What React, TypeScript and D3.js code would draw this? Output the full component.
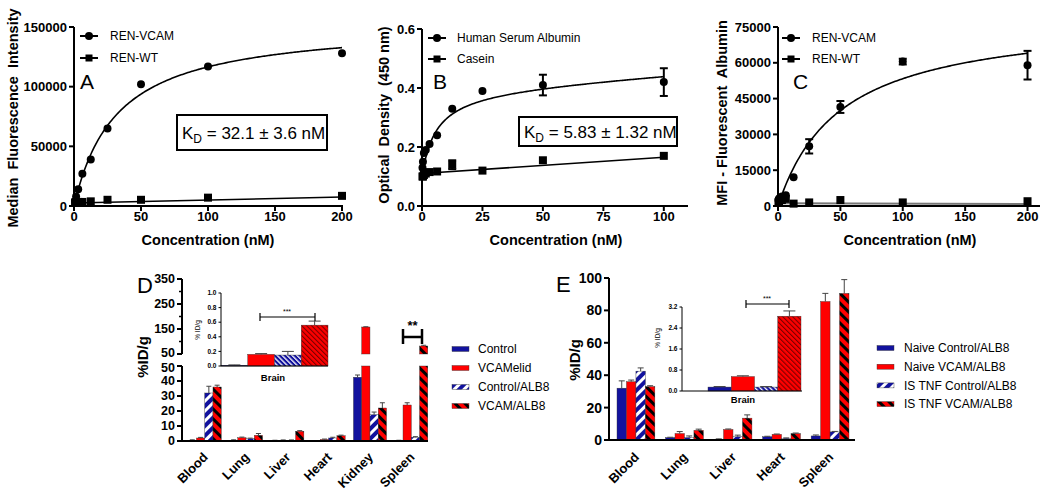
import React from 'react';
import * as d3 from 'd3';

const FONT = '"Liberation Sans", Arial, Helvetica, sans-serif';
const BLUE = '#12129e';
const RED = '#ff0000';

// ---------- Panel A ----------
const concA = [0.78, 1.56, 3.125, 6.25, 12.5, 25, 50, 100, 200];
const renVcamA = [4000, 8000, 14000, 27000, 39000, 65000, 102000, 117000, 128000];
const renWtA = [3000, 3200, 3400, 3400, 3900, 5200, 5200, 7000, 8500];
const fitA = { bmax: 154000, kd: 32.1 };
const wtFitA = { start: 2500, end: 7500 };
const ticksAx = [0, 50, 100, 150, 200];
const ticksAy = [0, 50000, 100000, 150000];

// ---------- Panel B ----------
const concB = [0.2, 0.39, 0.78, 1.56, 3.125, 6.25, 12.5, 25, 50, 100];
const hsaB = [0.13, 0.15, 0.18, 0.19, 0.21, 0.24, 0.33, 0.39, 0.41, 0.42];
const hsaErrB = [0, 0, 0, 0, 0, 0, 0, 0, 0.035, 0.047];
const caseinB = [0.1, 0.1, 0.105, 0.11, 0.115, 0.117, 0.14, 0.12, 0.155, 0.17];
const caseinErrB = [0, 0, 0, 0, 0, 0, 0.015, 0, 0, 0];
const fitB = { base: 0.1, bmax: 0.3, kd: 5.83, slope: 0.00055 };
const caseinFitB = { start: 0.11, slope: 0.00055 };
const ticksBx = [0, 25, 50, 75, 100];
const ticksBy = [0, 0.2, 0.4, 0.6];

// ---------- Panel C ----------
const concC = [0.39, 0.78, 1.56, 3.125, 6.25, 12.5, 25, 50, 100, 200];
const renVcamC = [2500, 3000, 3500, 4000, 4500, 12000, 25000, 41500, 60500, 59000];
const renVcamErrC = [0, 0, 0, 0, 0, 0, 3000, 2500, 1200, 6000];
const renWtC = [1500, 2000, 2500, 2500, 3000, 1000, 1500, 2500, 1500, 2000];
const fitC = { bmax: 80000, kd: 50 };
const wtFitC = { start: 1200, end: 800 };
const ticksCx = [0, 50, 100, 150, 200];
const ticksCy = [0, 15000, 30000, 45000, 60000, 75000];

// ---------- Panel D ----------
const catsD = ['Blood', 'Lung', 'Liver', 'Heart', 'Kidney', 'Spleen'];
const seriesD = ['Control', 'VCAMelid', 'Control/ALB8', 'VCAM/ALB8'];
const dControl = [0.5, 0.5, 0.3, 0.2, 42.5, 0.3];
const dVcamelid = [2, 2.2, 0.5, 1, 158, 24];
const dControlAlb8 = [32, 1.5, 0.5, 2, 17.5, 2.5];
const dVcamAlb8 = [36, 3.8, 6.5, 3.5, 22, 82];
const dControlErr = [0.3, 0.3, 0.2, 0.1, 1.5, 0.2];
const dVcamelidErr = [0.4, 0.4, 0.2, 0.3, 1, 1.5];
const dControlAlb8Err = [4.5, 0.4, 0.2, 0.5, 1.8, 0.4];
const dVcamAlb8Err = [1.2, 1.2, 0.4, 0.4, 3.5, 3];
const ticksDLow = [0, 10, 20, 30, 40, 50];
const ticksDHigh = [50, 150, 250, 350];
const minorDHigh = [100, 200, 300];
const brainD = [0.01, 0.16, 0.15, 0.56];
const brainDErr = [0.005, 0.01, 0.05, 0.055];
const ticksDInset = [0, 0.2, 0.4, 0.6, 0.8, 1.0];

// ---------- Panel E ----------
const catsE = ['Blood', 'Lung', 'Liver', 'Heart', 'Spleen'];
const seriesE = ['Naive Control/ALB8', 'Naive VCAM/ALB8', 'IS TNF Control/ALB8', 'IS TNF VCAM/ALB8'];
const eNaiveCtrl = [32, 1.5, 0.5, 2, 2.5];
const eNaiveVcam = [36, 4, 6.5, 3.5, 85.5];
const eIsCtrl = [42.5, 1.5, 2, 1, 5];
const eIsVcam = [33, 6, 13.5, 4, 90.5];
const eNaiveCtrlErr = [4.5, 0.2, 0.2, 0.3, 0.6];
const eNaiveVcamErr = [1, 1.2, 0.3, 0.2, 5];
const eIsCtrlErr = [2, 1, 1, 0.3, 0.3];
const eIsVcamErr = [0.5, 0.7, 2, 0.3, 8.5];
const ticksE = [0, 20, 40, 60, 80, 100];
const brainE = [0.15, 0.55, 0.15, 2.85];
const brainEErr = [0.02, 0.03, 0.02, 0.2];
const ticksEInset = [0, 0.8, 1.6, 2.4, 3.2];

const fills = [BLUE, RED, 'url(#hatchBlue)', 'url(#hatchRed)'];
const insetFills = [BLUE, RED, 'url(#fineBlue)', 'url(#fineRed)'];

type Lin = d3.ScaleLinear<number, number>;

function YAxis({ scale, ticks, x, fmt, fs = 13, len = 5, sw = 2, minor = [] as number[], labelShift = {} as any }: any) {
  const d = scale.domain();
  const y0 = scale(d[0]);
  const y1 = scale(d[1]);
  return (
    <g>
      <line x1={x} x2={x} y1={y0} y2={y1} stroke="#000" strokeWidth={sw} />
      {ticks.map((t: number) => (
        <g key={t}>
          <line x1={x - len} x2={x} y1={scale(t)} y2={scale(t)} stroke="#000" strokeWidth={sw} />
          <text x={x - len - 2} y={scale(t) + (labelShift[t] || 0)} dy="0.35em" textAnchor="end" fontSize={fs} fontWeight="bold">{fmt(t)}</text>
        </g>
      ))}
      {minor.map((t: number) => (
        <line key={'m' + t} x1={x - len * 0.6} x2={x} y1={scale(t)} y2={scale(t)} stroke="#000" strokeWidth={sw * 0.75} />
      ))}
    </g>
  );
}

function XAxis({ scale, ticks, y, x0, x1, fs = 13, len = 5, sw = 2, fmt = (t: number) => String(t) }: any) {
  return (
    <g>
      <line x1={x0} x2={x1} y1={y} y2={y} stroke="#000" strokeWidth={sw} />
      {ticks.map((t: number) => (
        <g key={t}>
          <line x1={scale(t)} x2={scale(t)} y1={y} y2={y + len} stroke="#000" strokeWidth={sw} />
          <text x={scale(t)} y={y + len + 10} textAnchor="middle" fontSize={fs} fontWeight="bold">{fmt(t)}</text>
        </g>
      ))}
    </g>
  );
}

function Circle({ cx, cy, r = 4 }: any) {
  return <circle cx={cx} cy={cy} r={r} fill="#000" />;
}
function Square({ cx, cy, s = 8 }: any) {
  return <rect x={cx - s / 2} y={cy - s / 2} width={s} height={s} fill="#000" />;
}
function ErrV({ x, y0, y1, cap = 4, sw = 2, color = '#000' }: any) {
  return (
    <g stroke={color} strokeWidth={sw}>
      <line x1={x} x2={x} y1={y0} y2={y1} />
      <line x1={x - cap} x2={x + cap} y1={y0} y2={y0} />
      <line x1={x - cap} x2={x + cap} y1={y1} y2={y1} />
    </g>
  );
}

function LegendSym({ x, y, text, kind, tx }: any) {
  return (
    <g>
      <line x1={x} x2={x + 18} y1={y} y2={y} stroke="#000" strokeWidth={2} />
      {kind === 'c' ? <Circle cx={x + 9} cy={y} r={4} /> : <Square cx={x + 9} cy={y} s={7} />}
      <text x={tx} y={y} dy="0.35em" fontSize={12}>{text}</text>
    </g>
  );
}

function KdBox({ x, y, w, h, val }: any) {
  return (
    <g>
      <rect x={x} y={y} width={w} height={h} fill="#fff" stroke="#000" strokeWidth={2} />
      <text x={x + 5} y={y + h / 2 + 6} fontSize={17}>
        K<tspan dy={4} fontSize={12}>D</tspan>
        <tspan dy={-4}>{' = ' + val}</tspan>
      </text>
    </g>
  );
}

export default function App() {
  // Panel A
  const xA: Lin = d3.scaleLinear().domain([0, 200]).range([74, 342]);
  const yA: Lin = d3.scaleLinear().domain([0, 150000]).range([206, 27]);
  const lineA = d3.line<[number, number]>().x(d => xA(d[0])).y(d => yA(d[1]));
  const curveA = lineA(d3.range(0, 200.01, 1).map(x => [x, (fitA.bmax * x) / (fitA.kd + x)] as [number, number])) || '';
  const wtLineA = lineA([[0, wtFitA.start], [200, wtFitA.end]]) || '';

  // Panel B
  const xB: Lin = d3.scaleLinear().domain([0, 110]).range([422, 688]);
  const yB: Lin = d3.scaleLinear().domain([0, 0.6]).range([206, 29]);
  const lineB = d3.line<[number, number]>().x(d => xB(d[0])).y(d => yB(d[1]));
  const curveB = lineB(d3.range(0, 100.01, 0.5).map(x => [x, fitB.base + (fitB.bmax * x) / (fitB.kd + x) + fitB.slope * x] as [number, number])) || '';
  const caseinLine = lineB([[0, caseinFitB.start], [100, caseinFitB.start + caseinFitB.slope * 100]]) || '';

  // Panel C
  const xC: Lin = d3.scaleLinear().domain([0, 210]).range([778, 1040]);
  const yC: Lin = d3.scaleLinear().domain([0, 75000]).range([206, 27]);
  const lineC = d3.line<[number, number]>().x(d => xC(d[0])).y(d => yC(d[1]));
  const curveC = lineC(d3.range(0, 200.01, 1).map(x => [x, (fitC.bmax * x) / (fitC.kd + x)] as [number, number])) || '';
  const wtLineC = lineC([[0, wtFitC.start], [200, wtFitC.end]]) || '';

  // Panel D
  const xD = d3.scaleBand<string>().domain(catsD).range([182, 434]).paddingInner(0.2).paddingOuter(0.15);
  const yDL: Lin = d3.scaleLinear().domain([0, 50]).range([441, 366]);
  const yDU: Lin = d3.scaleLinear().domain([50, 350]).range([354, 279]);
  const yD = (v: number) => (v <= 50 ? yDL(v) : yDU(v));
  const dSeries = [dControl, dVcamelid, dControlAlb8, dVcamAlb8];
  const dErrs = [dControlErr, dVcamelidErr, dControlAlb8Err, dVcamAlb8Err];
  const xDI = d3.scaleBand<string>().domain(seriesD).range([221, 328]).padding(0);
  const yDI: Lin = d3.scaleLinear().domain([0, 1]).range([366, 293]);

  // Panel E
  const xE = d3.scaleBand<string>().domain(catsE).range([609, 857]).paddingInner(0.22).paddingOuter(0.165);
  const yE: Lin = d3.scaleLinear().domain([0, 100]).range([440, 278]);
  const eSeries = [eNaiveCtrl, eNaiveVcam, eIsCtrl, eIsVcam];
  const eErrs = [eNaiveCtrlErr, eNaiveVcamErr, eIsCtrlErr, eIsVcamErr];
  const xEI = d3.scaleBand<string>().domain(seriesE).range([708, 801]).padding(0);
  const yEI: Lin = d3.scaleLinear().domain([0, 3.2]).range([391, 307]);

  const fmtK = (t: number) => String(t);

  const barErr = (x: number, yTop: number, yErr: number, cap = 2.5, key?: any) => (
    <g key={key} stroke="#444" strokeWidth={1}>
      <line x1={x} x2={x} y1={yTop} y2={yErr} />
      <line x1={x - cap} x2={x + cap} y1={yErr} y2={yErr} />
    </g>
  );

  return (
    <svg width={1050} height={490} style={{ position: 'absolute', left: 0, top: 0, background: '#fff' }} fontFamily={FONT}>
      <defs>
        <pattern id="hatchBlue" patternUnits="userSpaceOnUse" width={7} height={7} patternTransform="rotate(45)">
          <rect width={7} height={7} fill={BLUE} />
          <rect width={3} height={7} fill="#fff" />
        </pattern>
        <pattern id="hatchRed" patternUnits="userSpaceOnUse" width={7} height={7} patternTransform="rotate(-45)">
          <rect width={7} height={7} fill={RED} />
          <rect width={3} height={7} fill="#000" />
        </pattern>
        <pattern id="fineBlue" patternUnits="userSpaceOnUse" width={3.5} height={3.5} patternTransform="rotate(-45)">
          <rect width={3.5} height={3.5} fill={BLUE} />
          <rect width={1.3} height={3.5} fill="#fff" />
        </pattern>
        <pattern id="fineRed" patternUnits="userSpaceOnUse" width={3.5} height={3.5} patternTransform="rotate(-45)">
          <rect width={3.5} height={3.5} fill={RED} />
          <rect width={1.1} height={3.5} fill="#7a0000" />
        </pattern>
      </defs>

      {/* ================= Panel A ================= */}
      <g>
        <path d={curveA} fill="none" stroke="#000" strokeWidth={1.6} />
        <path d={wtLineA} fill="none" stroke="#000" strokeWidth={1.6} />
        {concA.map((c, i) => <Circle key={'a' + i} cx={xA(c)} cy={yA(renVcamA[i])} />)}
        {concA.map((c, i) => <Square key={'aw' + i} cx={xA(c)} cy={yA(renWtA[i])} />)}
        <YAxis scale={yA} ticks={ticksAy} x={74} fmt={fmtK} />
        <XAxis scale={xA} ticks={ticksAx} y={206} x0={74} x1={343} />
        <text transform="translate(18,118) rotate(-90)" textAnchor="middle" fontSize={14.5} fontWeight="bold" xmlSpace="preserve">Median  Fluorescence  Intensity</text>
        <text x={208} y={245} textAnchor="middle" fontSize={14.5} fontWeight="bold">Concentration (nM)</text>
        <LegendSym x={80} y={36} tx={110} kind="c" text="REN-VCAM" />
        <LegendSym x={80} y={58} tx={110} kind="s" text="REN-WT" />
        <text x={80} y={89} fontSize={21}>A</text>
        <KdBox x={177} y={115} w={150} h={35} val={'32.1 \u00b1 3.6 nM'} />
      </g>

      {/* ================= Panel B ================= */}
      <g>
        <path d={curveB} fill="none" stroke="#000" strokeWidth={1.6} />
        <path d={caseinLine} fill="none" stroke="#000" strokeWidth={1.6} />
        {concB.map((c, i) => (
          <g key={'b' + i}>
            {hsaErrB[i] > 0 && <ErrV x={xB(c)} y0={yB(hsaB[i] + hsaErrB[i])} y1={yB(hsaB[i] - hsaErrB[i])} />}
            <Circle cx={xB(c)} cy={yB(hsaB[i])} />
          </g>
        ))}
        {concB.map((c, i) => (
          <g key={'bc' + i}>
            {caseinErrB[i] > 0 && <ErrV x={xB(c)} y0={yB(caseinB[i] + caseinErrB[i])} y1={yB(caseinB[i] - caseinErrB[i])} />}
            <Square cx={xB(c)} cy={yB(caseinB[i])} />
          </g>
        ))}
        <YAxis scale={yB} ticks={ticksBy} x={422} fmt={(t: number) => t.toFixed(1)} />
        <XAxis scale={xB} ticks={ticksBx} y={206} x0={422} x1={688} />
        <text transform="translate(389,115) rotate(-90)" textAnchor="middle" fontSize={14.5} fontWeight="bold" xmlSpace="preserve">Optical  Density  (450 nm)</text>
        <text x={556} y={245} textAnchor="middle" fontSize={14.5} fontWeight="bold">Concentration (nM)</text>
        <LegendSym x={428} y={38} tx={457} kind="c" text="Human Serum Albumin" />
        <LegendSym x={428} y={59} tx={457} kind="s" text="Casein" />
        <text x={433} y={89} fontSize={21}>B</text>
        <KdBox x={519} y={117} w={158} h={29} val={'5.83 \u00b1 1.32 nM'} />
      </g>

      {/* ================= Panel C ================= */}
      <g>
        <path d={curveC} fill="none" stroke="#000" strokeWidth={1.6} />
        <path d={wtLineC} fill="none" stroke="#777" strokeWidth={2} />
        {concC.map((c, i) => (
          <g key={'c' + i}>
            {renVcamErrC[i] > 0 && <ErrV x={xC(c)} y0={yC(renVcamC[i] + renVcamErrC[i])} y1={yC(renVcamC[i] - renVcamErrC[i])} />}
            <Circle cx={xC(c)} cy={yC(renVcamC[i])} />
          </g>
        ))}
        {concC.map((c, i) => <Square key={'cw' + i} cx={xC(c)} cy={yC(renWtC[i])} />)}
        <YAxis scale={yC} ticks={ticksCy} x={778} fmt={fmtK} />
        <XAxis scale={xC} ticks={ticksCx} y={206} x0={778} x1={1040} />
        <text transform="translate(727,113) rotate(-90)" textAnchor="middle" fontSize={14.5} fontWeight="bold" xmlSpace="preserve">MFI - Fluorescent  Albumin</text>
        <text x={910} y={245} textAnchor="middle" fontSize={14.5} fontWeight="bold">Concentration (nM)</text>
        <LegendSym x={782} y={38} tx={812} kind="c" text="REN-VCAM" />
        <LegendSym x={782} y={59} tx={812} kind="s" text="REN-WT" />
        <text x={793} y={89} fontSize={21}>C</text>
      </g>

      {/* ================= Panel D ================= */}
      <g>
        {catsD.map((cat, ci) => {
          const bw = xD.bandwidth() / 4;
          return dSeries.map((ser, si) => {
            const v = ser[ci];
            const x = (xD(cat) as number) + si * bw;
            const e = dErrs[si][ci];
            const parts: any[] = [];
            if (v <= 50) {
              parts.push(<rect key="l" x={x} y={yDL(v)} width={bw} height={441 - yDL(v)} fill={fills[si]} stroke="#333" strokeWidth={0.4} />);
            } else {
              parts.push(<rect key="l" x={x} y={yDL(50)} width={bw} height={441 - yDL(50)} fill={fills[si]} stroke="#333" strokeWidth={0.4} />);
              parts.push(<rect key="u" x={x} y={yDU(v)} width={bw} height={354 - yDU(v)} fill={fills[si]} stroke="#333" strokeWidth={0.4} />);
            }
            parts.push(barErr(x + bw / 2, yD(v), yD(v + e), 2.5, 'e'));
            return <g key={cat + si}>{parts}</g>;
          });
        })}
        <YAxis scale={yDL} ticks={ticksDLow} x={182} fmt={fmtK} fs={12.5} labelShift={{ 50: 1.5 }} />
        <YAxis scale={yDU} ticks={ticksDHigh} x={182} fmt={fmtK} fs={12.5} minor={minorDHigh} labelShift={{ 50: -1.5 }} />
        <line x1={182} x2={428} y1={441} y2={441} stroke="#000" strokeWidth={2} />
        {catsD.map(cat => {
          const cx = (xD(cat) as number) + xD.bandwidth() / 2 + 4;
          return (
            <text key={cat} transform={`translate(${cx},458) rotate(-45)`} textAnchor="end" fontSize={13} fontWeight="bold">{cat}</text>
          );
        })}
        <text transform="translate(148,357) rotate(-90)" textAnchor="middle" fontSize={15} fontWeight="bold">%ID/g</text>
        <text x={137} y={293} fontSize={22}>D</text>
        {/* significance bracket spleen */}
        <g stroke="#000" strokeWidth={2.5}>
          <line x1={403} x2={422} y1={337} y2={337} />
          <line x1={403} x2={403} y1={329} y2={344} />
          <line x1={422} x2={422} y1={329} y2={344} />
        </g>
        <text x={412.5} y={330} textAnchor="middle" fontSize={13} fontWeight="bold">**</text>

        {/* inset D */}
        {seriesD.map((s, si) => {
          const x = xDI(s) as number;
          const w = xDI.bandwidth();
          return (
            <g key={'di' + s}>
              <rect x={x} y={yDI(brainD[si])} width={w} height={366 - yDI(brainD[si])} fill={insetFills[si]} stroke="#333" strokeWidth={0.4} />
              {barErr(x + w / 2, yDI(brainD[si]), yDI(brainD[si] + brainDErr[si]), 6)}
            </g>
          );
        })}
        <YAxis scale={yDI} ticks={ticksDInset} x={221} fmt={(t: number) => t.toFixed(1)} fs={6.5} len={2.5} sw={1} />
        <line x1={221} x2={328} y1={366} y2={366} stroke="#000" strokeWidth={1} />
        <text transform="translate(200,330) rotate(-90)" textAnchor="middle" fontSize={6.5}>% ID/g</text>
        <text x={273} y={381} textAnchor="middle" fontSize={9.5} fontWeight="bold">Brain</text>
        <g stroke="#000" strokeWidth={1.2}>
          <line x1={260} x2={315} y1={317} y2={317} />
          <line x1={260} x2={260} y1={313} y2={321} />
          <line x1={315} x2={315} y1={313} y2={321} />
        </g>
        <text x={287} y={314} textAnchor="middle" fontSize={7}>***</text>

        {/* legend D */}
        {seriesD.map((s, si) => (
          <g key={'ld' + s}>
            <rect x={452} y={349 + si * 19 - 2.5} width={17} height={5} fill={fills[si]} stroke="#333" strokeWidth={0.4} />
            <text x={478} y={349 + si * 19} dy="0.35em" fontSize={12}>{s}</text>
          </g>
        ))}
      </g>

      {/* ================= Panel E ================= */}
      <g>
        {catsE.map((cat, ci) => {
          const bw = xE.bandwidth() / 4;
          return eSeries.map((ser, si) => {
            const v = ser[ci];
            const x = (xE(cat) as number) + si * bw;
            return (
              <g key={cat + si}>
                <rect x={x} y={yE(v)} width={bw} height={440 - yE(v)} fill={fills[si]} stroke="#333" strokeWidth={0.4} />
                {barErr(x + bw / 2, yE(v), yE(v + eErrs[si][ci]), 3)}
              </g>
            );
          });
        })}
        <YAxis scale={yE} ticks={ticksE} x={609} fmt={fmtK} fs={14} />
        <line x1={609} x2={855} y1={440} y2={440} stroke="#000" strokeWidth={2} />
        {catsE.map(cat => {
          const cx = (xE(cat) as number) + xE.bandwidth() / 2 + 4;
          return (
            <text key={cat} transform={`translate(${cx},458) rotate(-45)`} textAnchor="end" fontSize={13} fontWeight="bold">{cat}</text>
          );
        })}
        <text transform="translate(580,360) rotate(-90)" textAnchor="middle" fontSize={15} fontWeight="bold">%ID/g</text>
        <text x={556} y={292} fontSize={22}>E</text>

        {/* inset E */}
        {seriesE.map((s, si) => {
          const x = xEI(s) as number;
          const w = xEI.bandwidth();
          return (
            <g key={'ei' + s}>
              <rect x={x} y={yEI(brainE[si])} width={w} height={391 - yEI(brainE[si])} fill={insetFills[si]} stroke="#333" strokeWidth={0.4} />
              {barErr(x + w / 2, yEI(brainE[si]), yEI(brainE[si] + brainEErr[si]), 6)}
            </g>
          );
        })}
        <YAxis scale={yEI} ticks={ticksEInset} x={682} fmt={(t: number) => t.toFixed(1)} fs={6.5} len={2.5} sw={1} />
        <line x1={682} x2={802} y1={391} y2={391} stroke="#000" strokeWidth={1} />
        <text transform="translate(660,338) rotate(-90)" textAnchor="middle" fontSize={6.5}>% ID/g</text>
        <text x={743} y={403} textAnchor="middle" fontSize={9.5} fontWeight="bold">Brain</text>
        <g stroke="#000" strokeWidth={1.2}>
          <line x1={746} x2={789} y1={304} y2={304} />
          <line x1={746} x2={746} y1={300} y2={308} />
          <line x1={789} x2={789} y1={300} y2={308} />
        </g>
        <text x={767} y={301} textAnchor="middle" fontSize={7}>***</text>

        {/* legend E */}
        {seriesE.map((s, si) => (
          <g key={'le' + s}>
            <rect x={877} y={348 + si * 18.7 - 2.5} width={17} height={5} fill={fills[si]} stroke="#333" strokeWidth={0.4} />
            <text x={904} y={348 + si * 18.7} dy="0.35em" fontSize={12}>{s}</text>
          </g>
        ))}
      </g>
    </svg>
  );
}
